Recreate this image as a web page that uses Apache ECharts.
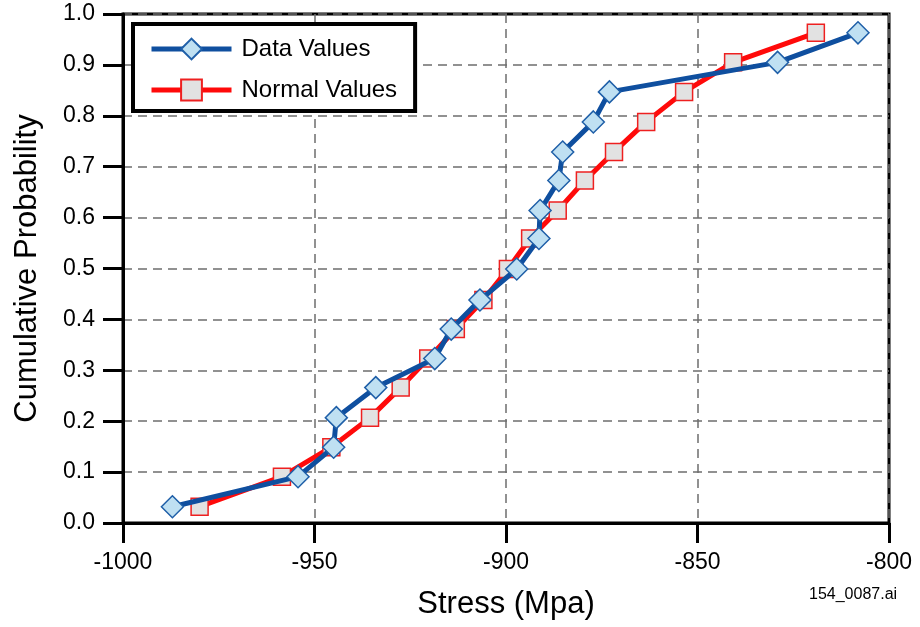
<!DOCTYPE html>
<html>
<head>
<meta charset="utf-8">
<script src="https://cdn.jsdelivr.net/npm/echarts@6/dist/echarts.min.js"></script>
<style>
  html, body { margin: 0; padding: 0; background: #fff; }
  #main { width: 920px; height: 627px; }
</style>
</head>
<body>
<div id="main"></div>
<script>
// cumulative probability for each ranked point
var probabilities = [0.032, 0.091, 0.149, 0.207, 0.266, 0.323, 0.381, 0.438, 0.499,
  0.559, 0.614, 0.673, 0.729, 0.788, 0.847, 0.905, 0.963]

// stress values (Mpa)
var dataStress = [-987.1, -954.3, -945.0, -944.3, -934.0, -918.6, -914.3, -906.8, -897.2,
  -891.4, -891.1, -886.2, -885.2, -877.2, -873.0, -829.1, -808.1]
var normalStress = [-980.0, -958.5, -945.6, -935.5, -927.5, -920.3, -913.1, -905.9, -899.5,
  -893.7, -886.5, -879.4, -871.8, -863.4, -853.5, -840.7, -819.1]

var xTicks = [-1000, -950, -900, -850, -800]
var yTicks = [0, 0.1, 0.2, 0.3, 0.4, 0.5, 0.6, 0.7, 0.8, 0.9, 1.0]

function pairs(xs, ys) {
  return xs.map(function (x, i) { return [x, ys[i]] })
}

var myChart = echarts.init(document.getElementById('main'))

var font = 'Liberation Sans, Arial, sans-serif'

var option = {
  animation: false,
  textStyle: { fontFamily: font },
  grid: {
    left: 123, top: 14, width: 766, height: 509,
    show: true, borderColor: '#000', borderWidth: 3, backgroundColor: '#fff'
  },
  legend: {
    orient: 'vertical',
    left: 133, top: 24,
    data: ['Data Values', 'Normal Values'],
    itemWidth: 80, itemHeight: 26, itemGap: 17,
    padding: [13, 18, 9, 16],
    borderColor: '#000', borderWidth: 4, backgroundColor: '#fff',
    lineStyle: { width: 5 },
    textStyle: { fontSize: 24, color: '#000', fontFamily: font, padding: [0, 0, 0, 5] }
  },
  graphic: [{
    type: 'text', left: 809, top: 587,
    style: { text: '154_0087.ai', fontSize: 16, fill: '#000', fontFamily: font }
  }],
  xAxis: {
    type: 'value',
    min: xTicks[0], max: xTicks[xTicks.length - 1], interval: 50,
    name: 'Stress (Mpa)', nameLocation: 'middle', nameGap: 66,
    nameTextStyle: { fontSize: 31, color: '#000', fontFamily: font },
    axisLine: { show: true, lineStyle: { color: '#000', width: 3 } },
    axisTick: { show: true, inside: false, length: 20, lineStyle: { color: '#000', width: 3 } },
    axisLabel: {
      fontSize: 23, color: '#000', margin: 28,
      formatter: function (v) { return String(v) }
    },
    splitLine: { show: true, lineStyle: { color: '#6e6e6e', width: 1.5, type: [9, 6] } }
  },
  yAxis: {
    type: 'value',
    min: yTicks[0], max: yTicks[yTicks.length - 1], interval: 0.1,
    name: 'Cumulative Probability', nameLocation: 'middle', nameGap: 80,
    nameTextStyle: { fontSize: 31, color: '#000', fontFamily: font },
    axisLine: { show: true, lineStyle: { color: '#000', width: 3 } },
    axisTick: { show: true, inside: false, length: 20, lineStyle: { color: '#000', width: 3 } },
    axisLabel: {
      fontSize: 23, color: '#000', margin: 28,
      formatter: function (v) { return v.toFixed(1) }
    },
    splitLine: { show: true, lineStyle: { color: '#6e6e6e', width: 1.5, type: [9, 6] } }
  },
  series: [
    {
      name: 'Normal Values',
      type: 'line',
      data: pairs(normalStress, probabilities),
      symbol: 'rect', symbolSize: 17,
      lineStyle: { color: '#ff0a0a', width: 5 },
      itemStyle: { color: '#e2e2e2', borderColor: '#ee2020', borderWidth: 1.5 },
      z: 2
    },
    {
      name: 'Data Values',
      type: 'line',
      data: pairs(dataStress, probabilities),
      symbol: 'diamond', symbolSize: 22,
      lineStyle: { color: '#0f4f9f', width: 5 },
      itemStyle: { color: '#bfe0f2', borderColor: '#1f5fa8', borderWidth: 1.5 },
      z: 3
    }
  ]
}

myChart.setOption(option)
</script>
</body>
</html>
